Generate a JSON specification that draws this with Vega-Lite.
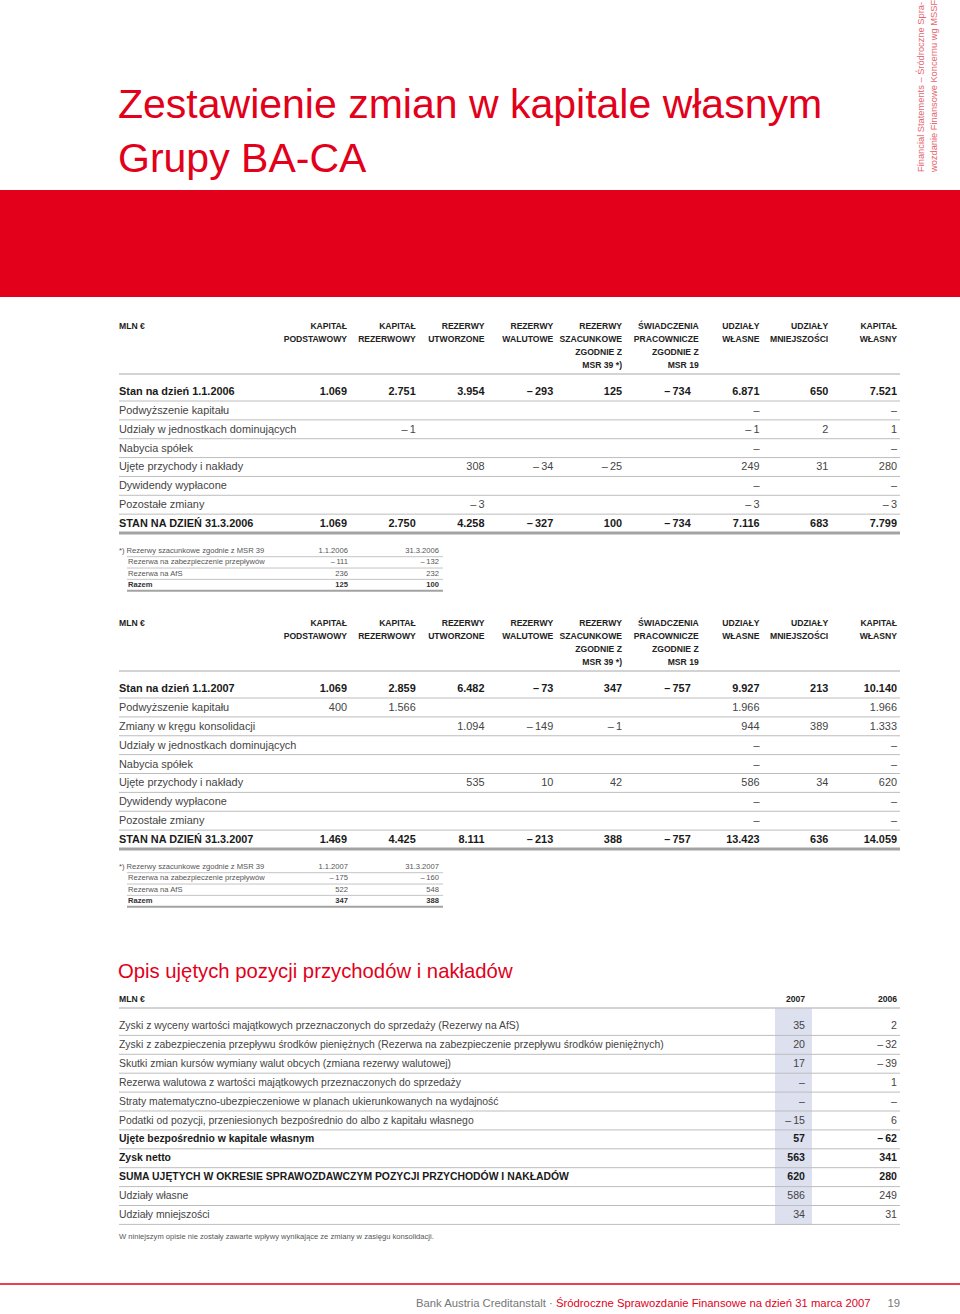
{
"$schema": "https://vega.github.io/schema/vega-lite/v6.json",
"width": 960, "height": 1314, "padding": 0, "autosize": {"type": "none"},
"background": "white",
"config": {"view": {"stroke": null}, "axis": {"disable": true}, "legend": {"disable": true}, "text": {"font": "Liberation Sans, Arial, sans-serif", "baseline": "middle"}},
"resolve": {"scale": {"x": "independent", "y": "independent"}},
"datasets": {
"banner": [{"block": "banner"}],
"title": [{"line": 0, "text": "Zestawienie zmian w kapitale własnym"}, {"line": 1, "text": "Grupy BA-CA"}],
"side": [{"line": 0, "text": "Financial Statements – Śródroczne Spra-"}, {"line": 1, "text": "wozdanie Finansowe Koncernu wg MSSF"}],
"hdr": [
{"c": 0, "l": 0, "t": "MLN €"},
{"c": 1, "l": 0, "t": "KAPITAŁ"}, {"c": 1, "l": 1, "t": "PODSTAWOWY"},
{"c": 2, "l": 0, "t": "KAPITAŁ"}, {"c": 2, "l": 1, "t": "REZERWOWY"},
{"c": 3, "l": 0, "t": "REZERWY"}, {"c": 3, "l": 1, "t": "UTWORZONE"},
{"c": 4, "l": 0, "t": "REZERWY"}, {"c": 4, "l": 1, "t": "WALUTOWE"},
{"c": 5, "l": 0, "t": "REZERWY"}, {"c": 5, "l": 1, "t": "SZACUNKOWE"}, {"c": 5, "l": 2, "t": "ZGODNIE Z"}, {"c": 5, "l": 3, "t": "MSR 39 *)"},
{"c": 6, "l": 0, "t": "ŚWIADCZENIA"}, {"c": 6, "l": 1, "t": "PRACOWNICZE"}, {"c": 6, "l": 2, "t": "ZGODNIE Z"}, {"c": 6, "l": 3, "t": "MSR 19"},
{"c": 7, "l": 0, "t": "UDZIAŁY"}, {"c": 7, "l": 1, "t": "WŁASNE"},
{"c": 8, "l": 0, "t": "UDZIAŁY"}, {"c": 8, "l": 1, "t": "MNIEJSZOŚCI"},
{"c": 9, "l": 0, "t": "KAPITAŁ"}, {"c": 9, "l": 1, "t": "WŁASNY"}
],
"t1": [
{"r": 0, "c": 0, "v": "Stan na dzień 1.1.2006", "b": true}, {"r": 0, "c": 1, "v": "1.069", "b": true}, {"r": 0, "c": 2, "v": "2.751", "b": true}, {"r": 0, "c": 3, "v": "3.954", "b": true}, {"r": 0, "c": 4, "v": "–\u2009293", "b": true}, {"r": 0, "c": 5, "v": "125", "b": true}, {"r": 0, "c": 6, "v": "–\u2009734", "b": true}, {"r": 0, "c": 7, "v": "6.871", "b": true}, {"r": 0, "c": 8, "v": "650", "b": true}, {"r": 0, "c": 9, "v": "7.521", "b": true},
{"r": 1, "c": 0, "v": "Podwyższenie kapitału"}, {"r": 1, "c": 7, "v": "–"}, {"r": 1, "c": 9, "v": "–"},
{"r": 2, "c": 0, "v": "Udziały w jednostkach dominujących"}, {"r": 2, "c": 2, "v": "–\u20091"}, {"r": 2, "c": 7, "v": "–\u20091"}, {"r": 2, "c": 8, "v": "2"}, {"r": 2, "c": 9, "v": "1"},
{"r": 3, "c": 0, "v": "Nabycia spółek"}, {"r": 3, "c": 7, "v": "–"}, {"r": 3, "c": 9, "v": "–"},
{"r": 4, "c": 0, "v": "Ujęte przychody i nakłady"}, {"r": 4, "c": 3, "v": "308"}, {"r": 4, "c": 4, "v": "–\u200934"}, {"r": 4, "c": 5, "v": "–\u200925"}, {"r": 4, "c": 7, "v": "249"}, {"r": 4, "c": 8, "v": "31"}, {"r": 4, "c": 9, "v": "280"},
{"r": 5, "c": 0, "v": "Dywidendy wypłacone"}, {"r": 5, "c": 7, "v": "–"}, {"r": 5, "c": 9, "v": "–"},
{"r": 6, "c": 0, "v": "Pozostałe zmiany"}, {"r": 6, "c": 3, "v": "–\u20093"}, {"r": 6, "c": 7, "v": "–\u20093"}, {"r": 6, "c": 9, "v": "–\u20093"},
{"r": 7, "c": 0, "v": "STAN NA DZIEŃ 31.3.2006", "b": true}, {"r": 7, "c": 1, "v": "1.069", "b": true}, {"r": 7, "c": 2, "v": "2.750", "b": true}, {"r": 7, "c": 3, "v": "4.258", "b": true}, {"r": 7, "c": 4, "v": "–\u2009327", "b": true}, {"r": 7, "c": 5, "v": "100", "b": true}, {"r": 7, "c": 6, "v": "–\u2009734", "b": true}, {"r": 7, "c": 7, "v": "7.116", "b": true}, {"r": 7, "c": 8, "v": "683", "b": true}, {"r": 7, "c": 9, "v": "7.799", "b": true}
],
"t2": [
{"r": 0, "c": 0, "v": "Stan na dzień 1.1.2007", "b": true}, {"r": 0, "c": 1, "v": "1.069", "b": true}, {"r": 0, "c": 2, "v": "2.859", "b": true}, {"r": 0, "c": 3, "v": "6.482", "b": true}, {"r": 0, "c": 4, "v": "–\u200973", "b": true}, {"r": 0, "c": 5, "v": "347", "b": true}, {"r": 0, "c": 6, "v": "–\u2009757", "b": true}, {"r": 0, "c": 7, "v": "9.927", "b": true}, {"r": 0, "c": 8, "v": "213", "b": true}, {"r": 0, "c": 9, "v": "10.140", "b": true},
{"r": 1, "c": 0, "v": "Podwyższenie kapitału"}, {"r": 1, "c": 1, "v": "400"}, {"r": 1, "c": 2, "v": "1.566"}, {"r": 1, "c": 7, "v": "1.966"}, {"r": 1, "c": 9, "v": "1.966"},
{"r": 2, "c": 0, "v": "Zmiany w kręgu konsolidacji"}, {"r": 2, "c": 3, "v": "1.094"}, {"r": 2, "c": 4, "v": "–\u2009149"}, {"r": 2, "c": 5, "v": "–\u20091"}, {"r": 2, "c": 7, "v": "944"}, {"r": 2, "c": 8, "v": "389"}, {"r": 2, "c": 9, "v": "1.333"},
{"r": 3, "c": 0, "v": "Udziały w jednostkach dominujących"}, {"r": 3, "c": 7, "v": "–"}, {"r": 3, "c": 9, "v": "–"},
{"r": 4, "c": 0, "v": "Nabycia spółek"}, {"r": 4, "c": 7, "v": "–"}, {"r": 4, "c": 9, "v": "–"},
{"r": 5, "c": 0, "v": "Ujęte przychody i nakłady"}, {"r": 5, "c": 3, "v": "535"}, {"r": 5, "c": 4, "v": "10"}, {"r": 5, "c": 5, "v": "42"}, {"r": 5, "c": 7, "v": "586"}, {"r": 5, "c": 8, "v": "34"}, {"r": 5, "c": 9, "v": "620"},
{"r": 6, "c": 0, "v": "Dywidendy wypłacone"}, {"r": 6, "c": 7, "v": "–"}, {"r": 6, "c": 9, "v": "–"},
{"r": 7, "c": 0, "v": "Pozostałe zmiany"}, {"r": 7, "c": 7, "v": "–"}, {"r": 7, "c": 9, "v": "–"},
{"r": 8, "c": 0, "v": "STAN NA DZIEŃ 31.3.2007", "b": true}, {"r": 8, "c": 1, "v": "1.469", "b": true}, {"r": 8, "c": 2, "v": "4.425", "b": true}, {"r": 8, "c": 3, "v": "8.111", "b": true}, {"r": 8, "c": 4, "v": "–\u2009213", "b": true}, {"r": 8, "c": 5, "v": "388", "b": true}, {"r": 8, "c": 6, "v": "–\u2009757", "b": true}, {"r": 8, "c": 7, "v": "13.423", "b": true}, {"r": 8, "c": 8, "v": "636", "b": true}, {"r": 8, "c": 9, "v": "14.059", "b": true}
],
"f1": [
{"r": 0, "c": 0, "v": "*) Rezerwy szacunkowe zgodnie z MSR 39"}, {"r": 0, "c": 1, "v": "1.1.2006"}, {"r": 0, "c": 2, "v": "31.3.2006"},
{"r": 1, "c": 0, "v": "Rezerwa na zabezpieczenie przepływów"}, {"r": 1, "c": 1, "v": "–\u2009111"}, {"r": 1, "c": 2, "v": "–\u2009132"},
{"r": 2, "c": 0, "v": "Rezerwa na AfS"}, {"r": 2, "c": 1, "v": "236"}, {"r": 2, "c": 2, "v": "232"},
{"r": 3, "c": 0, "v": "Razem", "b": true}, {"r": 3, "c": 1, "v": "125", "b": true}, {"r": 3, "c": 2, "v": "100", "b": true}
],
"f2": [
{"r": 0, "c": 0, "v": "*) Rezerwy szacunkowe zgodnie z MSR 39"}, {"r": 0, "c": 1, "v": "1.1.2007"}, {"r": 0, "c": 2, "v": "31.3.2007"},
{"r": 1, "c": 0, "v": "Rezerwa na zabezpieczenie przepływów"}, {"r": 1, "c": 1, "v": "–\u2009175"}, {"r": 1, "c": 2, "v": "–\u2009160"},
{"r": 2, "c": 0, "v": "Rezerwa na AfS"}, {"r": 2, "c": 1, "v": "522"}, {"r": 2, "c": 2, "v": "548"},
{"r": 3, "c": 0, "v": "Razem", "b": true}, {"r": 3, "c": 1, "v": "347", "b": true}, {"r": 3, "c": 2, "v": "388", "b": true}
],
"t3title": [{"text": "Opis ujętych pozycji przychodów i nakładów"}],
"t3h": [{"c": 0, "t": "MLN €"}, {"c": 1, "t": "2007"}, {"c": 2, "t": "2006"}],
"t3": [
{"r": 0, "c": 0, "v": "Zyski z wyceny wartości majątkowych przeznaczonych do sprzedaży (Rezerwy na AfS)"}, {"r": 0, "c": 1, "v": "35"}, {"r": 0, "c": 2, "v": "2"},
{"r": 1, "c": 0, "v": "Zyski z zabezpieczenia przepływu środków pieniężnych (Rezerwa na zabezpieczenie przepływu środków pieniężnych)"}, {"r": 1, "c": 1, "v": "20"}, {"r": 1, "c": 2, "v": "–\u200932"},
{"r": 2, "c": 0, "v": "Skutki zmian kursów wymiany walut obcych (zmiana rezerwy walutowej)"}, {"r": 2, "c": 1, "v": "17"}, {"r": 2, "c": 2, "v": "–\u200939"},
{"r": 3, "c": 0, "v": "Rezerwa walutowa z wartości majątkowych przeznaczonych do sprzedaży"}, {"r": 3, "c": 1, "v": "–"}, {"r": 3, "c": 2, "v": "1"},
{"r": 4, "c": 0, "v": "Straty matematyczno-ubezpieczeniowe w planach ukierunkowanych na wydajność"}, {"r": 4, "c": 1, "v": "–"}, {"r": 4, "c": 2, "v": "–"},
{"r": 5, "c": 0, "v": "Podatki od pozycji, przeniesionych bezpośrednio do albo z kapitału własnego"}, {"r": 5, "c": 1, "v": "–\u200915"}, {"r": 5, "c": 2, "v": "6"},
{"r": 6, "c": 0, "v": "Ujęte bezpośrednio w kapitale własnym", "b": true}, {"r": 6, "c": 1, "v": "57", "b": true}, {"r": 6, "c": 2, "v": "–\u200962", "b": true},
{"r": 7, "c": 0, "v": "Zysk netto", "b": true}, {"r": 7, "c": 1, "v": "563", "b": true}, {"r": 7, "c": 2, "v": "341", "b": true},
{"r": 8, "c": 0, "v": "SUMA UJĘTYCH W OKRESIE SPRAWOZDAWCZYM POZYCJI PRZYCHODÓW I NAKŁADÓW", "b": true}, {"r": 8, "c": 1, "v": "620", "b": true}, {"r": 8, "c": 2, "v": "280", "b": true},
{"r": 9, "c": 0, "v": "Udziały własne"}, {"r": 9, "c": 1, "v": "586"}, {"r": 9, "c": 2, "v": "249"},
{"r": 10, "c": 0, "v": "Udziały mniejszości"}, {"r": 10, "c": 1, "v": "34"}, {"r": 10, "c": 2, "v": "31"}
],
"note": [{"text": "W niniejszym opisie nie zostały zawarte wpływy wynikające ze zmiany w zasięgu konsolidacji."}],
"footer": [{"part": "a", "text": "Bank Austria Creditanstalt ·"}, {"part": "b", "text": "Śródroczne Sprawozdanie Finansowe na dzień 31 marca 2007"}, {"part": "c", "text": "19"}]
},
"layer": [
{"data": {"name": "title"}, "mark": {"type": "text", "align": "left", "baseline": "alphabetic", "fontSize": 41, "color": "#e2001a"},
 "encoding": {"x": {"datum": 0, "scale": {"domain": [0, 1], "range": [118, 900], "nice": false, "zero": false}}, "y": {"field": "line", "type": "quantitative", "scale": {"domain": [0, 1], "range": [118, 172], "nice": false, "zero": false}}, "text": {"field": "text"}}},
{"data": {"name": "side"}, "mark": {"type": "text", "align": "left", "baseline": "middle", "angle": 270, "fontSize": 9.3, "color": "#e5646e"},
 "encoding": {"x": {"field": "line", "type": "quantitative", "scale": {"domain": [0, 1], "range": [921, 934], "nice": false, "zero": false}}, "y": {"datum": 0, "scale": {"domain": [0, 1], "range": [172, 0], "nice": false, "zero": false}}, "text": {"field": "text"}}},
{"data": {"name": "banner"}, "mark": {"type": "rect", "color": "#e2001a"},
 "encoding": {"x": {"datum": 0, "scale": {"domain": [0, 1], "range": [0, 960], "nice": false, "zero": false}}, "x2": {"datum": 1}, "y": {"datum": 0, "scale": {"domain": [0, 1], "range": [190, 297], "nice": false, "zero": false}}, "y2": {"datum": 1}}},

{"data": {"name": "hdr"}, "transform": [{"filter": "datum.c > 0 && datum.c != 6"}], "mark": {"type": "text", "align": "right", "fontSize": 8.6, "fontWeight": "bold", "color": "#222"},
 "encoding": {"x": {"field": "c", "type": "quantitative", "scale": {"domain": [1, 9], "range": [347, 897], "nice": false, "zero": false}}, "y": {"field": "l", "type": "quantitative", "scale": {"domain": [0, 3], "range": [326, 365], "nice": false, "zero": false}}, "text": {"field": "t"}}},
{"data": {"name": "hdr"}, "transform": [{"filter": "datum.c == 6"}], "mark": {"type": "text", "align": "right", "dx": 8, "fontSize": 8.6, "fontWeight": "bold", "color": "#222"},
 "encoding": {"x": {"field": "c", "type": "quantitative", "scale": {"domain": [1, 9], "range": [347, 897], "nice": false, "zero": false}}, "y": {"field": "l", "type": "quantitative", "scale": {"domain": [0, 3], "range": [326, 365], "nice": false, "zero": false}}, "text": {"field": "t"}}},
{"data": {"name": "hdr"}, "transform": [{"filter": "datum.c == 0"}], "mark": {"type": "text", "align": "left", "fontSize": 8.6, "fontWeight": "bold", "color": "#222"},
 "encoding": {"x": {"field": "c", "type": "quantitative", "scale": {"domain": [0, 1], "range": [119, 900], "nice": false, "zero": false}}, "y": {"field": "l", "type": "quantitative", "scale": {"domain": [0, 3], "range": [326, 365], "nice": false, "zero": false}}, "text": {"field": "t"}}},
{"data": {"name": "t1"}, "transform": [{"filter": "datum.c == 0"}], "mark": {"type": "rule", "yOffset": 9},
 "encoding": {"x": {"datum": 0, "scale": {"domain": [0, 1], "range": [119, 900], "nice": false, "zero": false}}, "x2": {"datum": 1}, "y": {"field": "r", "type": "quantitative", "scale": {"domain": [0, 7], "range": [392, 524], "nice": false, "zero": false}},
  "strokeWidth": {"condition": {"test": "datum.r == 7", "value": 3}, "value": 1}, "color": {"condition": {"test": "datum.r == 7", "value": "#a3a3a3"}, "value": "#bdbdbd"}}},
{"data": {"name": "t1"}, "transform": [{"filter": "datum.c == 0 && datum.r == 0"}], "mark": {"type": "rule", "yOffset": -18, "color": "#a8a8a8", "strokeWidth": 1},
 "encoding": {"x": {"datum": 0, "scale": {"domain": [0, 1], "range": [119, 900], "nice": false, "zero": false}}, "x2": {"datum": 1}, "y": {"field": "r", "type": "quantitative", "scale": {"domain": [0, 7], "range": [392, 524], "nice": false, "zero": false}}}},
{"data": {"name": "t1"}, "transform": [{"filter": "datum.c == 0 && !datum.b"}], "mark": {"type": "text", "align": "left", "fontSize": 10.9, "color": "#444"},
 "encoding": {"x": {"field": "c", "type": "quantitative", "scale": {"domain": [0, 1], "range": [119, 900], "nice": false, "zero": false}}, "y": {"field": "r", "type": "quantitative", "scale": {"domain": [0, 7], "range": [392, 524], "nice": false, "zero": false}}, "text": {"field": "v"}}},
{"data": {"name": "t1"}, "transform": [{"filter": "datum.c == 0 && datum.b"}], "mark": {"type": "text", "align": "left", "fontSize": 10.9, "fontWeight": "bold", "color": "#1a1a1a"},
 "encoding": {"x": {"field": "c", "type": "quantitative", "scale": {"domain": [0, 1], "range": [119, 900], "nice": false, "zero": false}}, "y": {"field": "r", "type": "quantitative", "scale": {"domain": [0, 7], "range": [392, 524], "nice": false, "zero": false}}, "text": {"field": "v"}}},
{"data": {"name": "t1"}, "transform": [{"filter": "datum.c > 0 && !datum.b"}], "mark": {"type": "text", "align": "right", "fontSize": 10.9, "color": "#444"},
 "encoding": {"x": {"field": "c", "type": "quantitative", "scale": {"domain": [1, 9], "range": [347, 897], "nice": false, "zero": false}}, "y": {"field": "r", "type": "quantitative", "scale": {"domain": [0, 7], "range": [392, 524], "nice": false, "zero": false}}, "text": {"field": "v"}}},
{"data": {"name": "t1"}, "transform": [{"filter": "datum.c > 0 && datum.b"}], "mark": {"type": "text", "align": "right", "fontSize": 10.9, "fontWeight": "bold", "color": "#1a1a1a"},
 "encoding": {"x": {"field": "c", "type": "quantitative", "scale": {"domain": [1, 9], "range": [347, 897], "nice": false, "zero": false}}, "y": {"field": "r", "type": "quantitative", "scale": {"domain": [0, 7], "range": [392, 524], "nice": false, "zero": false}}, "text": {"field": "v"}}},

{"data": {"name": "f1"}, "transform": [{"filter": "datum.c == 0"}], "mark": {"type": "rule", "yOffset": 5.7},
 "encoding": {"x": {"datum": 0, "scale": {"domain": [0, 1], "range": [127, 443], "nice": false, "zero": false}}, "x2": {"datum": 1}, "y": {"field": "r", "type": "quantitative", "scale": {"domain": [0, 3], "range": [551, 585], "nice": false, "zero": false}},
  "strokeWidth": {"condition": {"test": "datum.r == 3", "value": 2}, "value": 1}, "color": {"condition": {"test": "datum.r == 3", "value": "#a3a3a3"}, "value": "#c4c4c4"}}},
{"data": {"name": "f1"}, "transform": [{"filter": "datum.c == 0 && datum.r == 0"}], "mark": {"type": "text", "align": "left", "fontSize": 7.6, "color": "#555"},
 "encoding": {"x": {"field": "c", "type": "quantitative", "scale": {"domain": [0, 1], "range": [119, 443], "nice": false, "zero": false}}, "y": {"field": "r", "type": "quantitative", "scale": {"domain": [0, 3], "range": [551, 585], "nice": false, "zero": false}}, "text": {"field": "v"}}},
{"data": {"name": "f1"}, "transform": [{"filter": "datum.c == 0 && datum.r > 0 && !datum.b"}], "mark": {"type": "text", "align": "left", "fontSize": 7.6, "color": "#555"},
 "encoding": {"x": {"field": "c", "type": "quantitative", "scale": {"domain": [0, 1], "range": [128, 443], "nice": false, "zero": false}}, "y": {"field": "r", "type": "quantitative", "scale": {"domain": [0, 3], "range": [551, 585], "nice": false, "zero": false}}, "text": {"field": "v"}}},
{"data": {"name": "f1"}, "transform": [{"filter": "datum.c == 0 && datum.b"}], "mark": {"type": "text", "align": "left", "fontSize": 7.6, "fontWeight": "bold", "color": "#333"},
 "encoding": {"x": {"field": "c", "type": "quantitative", "scale": {"domain": [0, 1], "range": [128, 443], "nice": false, "zero": false}}, "y": {"field": "r", "type": "quantitative", "scale": {"domain": [0, 3], "range": [551, 585], "nice": false, "zero": false}}, "text": {"field": "v"}}},
{"data": {"name": "f1"}, "transform": [{"filter": "datum.c > 0 && !datum.b"}], "mark": {"type": "text", "align": "right", "fontSize": 7.6, "color": "#555"},
 "encoding": {"x": {"field": "c", "type": "quantitative", "scale": {"domain": [1, 2], "range": [348, 439], "nice": false, "zero": false}}, "y": {"field": "r", "type": "quantitative", "scale": {"domain": [0, 3], "range": [551, 585], "nice": false, "zero": false}}, "text": {"field": "v"}}},
{"data": {"name": "f1"}, "transform": [{"filter": "datum.c > 0 && datum.b"}], "mark": {"type": "text", "align": "right", "fontSize": 7.6, "fontWeight": "bold", "color": "#333"},
 "encoding": {"x": {"field": "c", "type": "quantitative", "scale": {"domain": [1, 2], "range": [348, 439], "nice": false, "zero": false}}, "y": {"field": "r", "type": "quantitative", "scale": {"domain": [0, 3], "range": [551, 585], "nice": false, "zero": false}}, "text": {"field": "v"}}},

{"data": {"name": "hdr"}, "transform": [{"filter": "datum.c > 0 && datum.c != 6"}], "mark": {"type": "text", "align": "right", "fontSize": 8.6, "fontWeight": "bold", "color": "#222"},
 "encoding": {"x": {"field": "c", "type": "quantitative", "scale": {"domain": [1, 9], "range": [347, 897], "nice": false, "zero": false}}, "y": {"field": "l", "type": "quantitative", "scale": {"domain": [0, 3], "range": [623, 662], "nice": false, "zero": false}}, "text": {"field": "t"}}},
{"data": {"name": "hdr"}, "transform": [{"filter": "datum.c == 6"}], "mark": {"type": "text", "align": "right", "dx": 8, "fontSize": 8.6, "fontWeight": "bold", "color": "#222"},
 "encoding": {"x": {"field": "c", "type": "quantitative", "scale": {"domain": [1, 9], "range": [347, 897], "nice": false, "zero": false}}, "y": {"field": "l", "type": "quantitative", "scale": {"domain": [0, 3], "range": [623, 662], "nice": false, "zero": false}}, "text": {"field": "t"}}},
{"data": {"name": "hdr"}, "transform": [{"filter": "datum.c == 0"}], "mark": {"type": "text", "align": "left", "fontSize": 8.6, "fontWeight": "bold", "color": "#222"},
 "encoding": {"x": {"field": "c", "type": "quantitative", "scale": {"domain": [0, 1], "range": [119, 900], "nice": false, "zero": false}}, "y": {"field": "l", "type": "quantitative", "scale": {"domain": [0, 3], "range": [623, 662], "nice": false, "zero": false}}, "text": {"field": "t"}}},
{"data": {"name": "t2"}, "transform": [{"filter": "datum.c == 0"}], "mark": {"type": "rule", "yOffset": 9},
 "encoding": {"x": {"datum": 0, "scale": {"domain": [0, 1], "range": [119, 900], "nice": false, "zero": false}}, "x2": {"datum": 1}, "y": {"field": "r", "type": "quantitative", "scale": {"domain": [0, 8], "range": [689, 840], "nice": false, "zero": false}},
  "strokeWidth": {"condition": {"test": "datum.r == 8", "value": 3}, "value": 1}, "color": {"condition": {"test": "datum.r == 8", "value": "#a3a3a3"}, "value": "#bdbdbd"}}},
{"data": {"name": "t2"}, "transform": [{"filter": "datum.c == 0 && datum.r == 0"}], "mark": {"type": "rule", "yOffset": -18, "color": "#a8a8a8", "strokeWidth": 1},
 "encoding": {"x": {"datum": 0, "scale": {"domain": [0, 1], "range": [119, 900], "nice": false, "zero": false}}, "x2": {"datum": 1}, "y": {"field": "r", "type": "quantitative", "scale": {"domain": [0, 8], "range": [689, 840], "nice": false, "zero": false}}}},
{"data": {"name": "t2"}, "transform": [{"filter": "datum.c == 0 && !datum.b"}], "mark": {"type": "text", "align": "left", "fontSize": 10.9, "color": "#444"},
 "encoding": {"x": {"field": "c", "type": "quantitative", "scale": {"domain": [0, 1], "range": [119, 900], "nice": false, "zero": false}}, "y": {"field": "r", "type": "quantitative", "scale": {"domain": [0, 8], "range": [689, 840], "nice": false, "zero": false}}, "text": {"field": "v"}}},
{"data": {"name": "t2"}, "transform": [{"filter": "datum.c == 0 && datum.b"}], "mark": {"type": "text", "align": "left", "fontSize": 10.9, "fontWeight": "bold", "color": "#1a1a1a"},
 "encoding": {"x": {"field": "c", "type": "quantitative", "scale": {"domain": [0, 1], "range": [119, 900], "nice": false, "zero": false}}, "y": {"field": "r", "type": "quantitative", "scale": {"domain": [0, 8], "range": [689, 840], "nice": false, "zero": false}}, "text": {"field": "v"}}},
{"data": {"name": "t2"}, "transform": [{"filter": "datum.c > 0 && !datum.b"}], "mark": {"type": "text", "align": "right", "fontSize": 10.9, "color": "#444"},
 "encoding": {"x": {"field": "c", "type": "quantitative", "scale": {"domain": [1, 9], "range": [347, 897], "nice": false, "zero": false}}, "y": {"field": "r", "type": "quantitative", "scale": {"domain": [0, 8], "range": [689, 840], "nice": false, "zero": false}}, "text": {"field": "v"}}},
{"data": {"name": "t2"}, "transform": [{"filter": "datum.c > 0 && datum.b"}], "mark": {"type": "text", "align": "right", "fontSize": 10.9, "fontWeight": "bold", "color": "#1a1a1a"},
 "encoding": {"x": {"field": "c", "type": "quantitative", "scale": {"domain": [1, 9], "range": [347, 897], "nice": false, "zero": false}}, "y": {"field": "r", "type": "quantitative", "scale": {"domain": [0, 8], "range": [689, 840], "nice": false, "zero": false}}, "text": {"field": "v"}}},

{"data": {"name": "f2"}, "transform": [{"filter": "datum.c == 0"}], "mark": {"type": "rule", "yOffset": 5.7},
 "encoding": {"x": {"datum": 0, "scale": {"domain": [0, 1], "range": [127, 443], "nice": false, "zero": false}}, "x2": {"datum": 1}, "y": {"field": "r", "type": "quantitative", "scale": {"domain": [0, 3], "range": [867, 901], "nice": false, "zero": false}},
  "strokeWidth": {"condition": {"test": "datum.r == 3", "value": 2}, "value": 1}, "color": {"condition": {"test": "datum.r == 3", "value": "#a3a3a3"}, "value": "#c4c4c4"}}},
{"data": {"name": "f2"}, "transform": [{"filter": "datum.c == 0 && datum.r == 0"}], "mark": {"type": "text", "align": "left", "fontSize": 7.6, "color": "#555"},
 "encoding": {"x": {"field": "c", "type": "quantitative", "scale": {"domain": [0, 1], "range": [119, 443], "nice": false, "zero": false}}, "y": {"field": "r", "type": "quantitative", "scale": {"domain": [0, 3], "range": [867, 901], "nice": false, "zero": false}}, "text": {"field": "v"}}},
{"data": {"name": "f2"}, "transform": [{"filter": "datum.c == 0 && datum.r > 0 && !datum.b"}], "mark": {"type": "text", "align": "left", "fontSize": 7.6, "color": "#555"},
 "encoding": {"x": {"field": "c", "type": "quantitative", "scale": {"domain": [0, 1], "range": [128, 443], "nice": false, "zero": false}}, "y": {"field": "r", "type": "quantitative", "scale": {"domain": [0, 3], "range": [867, 901], "nice": false, "zero": false}}, "text": {"field": "v"}}},
{"data": {"name": "f2"}, "transform": [{"filter": "datum.c == 0 && datum.b"}], "mark": {"type": "text", "align": "left", "fontSize": 7.6, "fontWeight": "bold", "color": "#333"},
 "encoding": {"x": {"field": "c", "type": "quantitative", "scale": {"domain": [0, 1], "range": [128, 443], "nice": false, "zero": false}}, "y": {"field": "r", "type": "quantitative", "scale": {"domain": [0, 3], "range": [867, 901], "nice": false, "zero": false}}, "text": {"field": "v"}}},
{"data": {"name": "f2"}, "transform": [{"filter": "datum.c > 0 && !datum.b"}], "mark": {"type": "text", "align": "right", "fontSize": 7.6, "color": "#555"},
 "encoding": {"x": {"field": "c", "type": "quantitative", "scale": {"domain": [1, 2], "range": [348, 439], "nice": false, "zero": false}}, "y": {"field": "r", "type": "quantitative", "scale": {"domain": [0, 3], "range": [867, 901], "nice": false, "zero": false}}, "text": {"field": "v"}}},
{"data": {"name": "f2"}, "transform": [{"filter": "datum.c > 0 && datum.b"}], "mark": {"type": "text", "align": "right", "fontSize": 7.6, "fontWeight": "bold", "color": "#333"},
 "encoding": {"x": {"field": "c", "type": "quantitative", "scale": {"domain": [1, 2], "range": [348, 439], "nice": false, "zero": false}}, "y": {"field": "r", "type": "quantitative", "scale": {"domain": [0, 3], "range": [867, 901], "nice": false, "zero": false}}, "text": {"field": "v"}}},

{"data": {"name": "t3title"}, "mark": {"type": "text", "align": "left", "baseline": "alphabetic", "fontSize": 20.3, "color": "#e2001a"},
 "encoding": {"x": {"datum": 0, "scale": {"domain": [0, 1], "range": [118, 900], "nice": false, "zero": false}}, "y": {"datum": 0, "scale": {"domain": [0, 1], "range": [978, 1000], "nice": false, "zero": false}}, "text": {"field": "text"}}},
{"data": {"name": "banner"}, "mark": {"type": "rect", "color": "#dde0ef"},
 "encoding": {"x": {"datum": 0, "scale": {"domain": [0, 1], "range": [775, 812], "nice": false, "zero": false}}, "x2": {"datum": 1}, "y": {"datum": 0, "scale": {"domain": [0, 1], "range": [1008.5, 1225], "nice": false, "zero": false}}, "y2": {"datum": 1}}},
{"data": {"name": "t3h"}, "transform": [{"filter": "datum.c == 0"}], "mark": {"type": "text", "align": "left", "fontSize": 8.6, "fontWeight": "bold", "color": "#222"},
 "encoding": {"x": {"field": "c", "type": "quantitative", "scale": {"domain": [0, 1], "range": [119, 900], "nice": false, "zero": false}}, "y": {"datum": 0, "scale": {"domain": [0, 1], "range": [999, 1000], "nice": false, "zero": false}}, "text": {"field": "t"}}},
{"data": {"name": "t3h"}, "transform": [{"filter": "datum.c > 0"}], "mark": {"type": "text", "align": "right", "fontSize": 8.6, "fontWeight": "bold", "color": "#222"},
 "encoding": {"x": {"field": "c", "type": "quantitative", "scale": {"domain": [1, 2], "range": [805, 897], "nice": false, "zero": false}}, "y": {"datum": 0, "scale": {"domain": [0, 1], "range": [999, 1000], "nice": false, "zero": false}}, "text": {"field": "t"}}},
{"data": {"name": "t3"}, "transform": [{"filter": "datum.c == 0"}], "mark": {"type": "rule", "yOffset": 9.4, "color": "#bdbdbd", "strokeWidth": 1},
 "encoding": {"x": {"datum": 0, "scale": {"domain": [0, 1], "range": [119, 900], "nice": false, "zero": false}}, "x2": {"datum": 1}, "y": {"field": "r", "type": "quantitative", "scale": {"domain": [0, 10], "range": [1026, 1215], "nice": false, "zero": false}}}},
{"data": {"name": "t3"}, "transform": [{"filter": "datum.c == 0 && datum.r == 0"}], "mark": {"type": "rule", "yOffset": -18, "color": "#a8a8a8", "strokeWidth": 1},
 "encoding": {"x": {"datum": 0, "scale": {"domain": [0, 1], "range": [119, 900], "nice": false, "zero": false}}, "x2": {"datum": 1}, "y": {"field": "r", "type": "quantitative", "scale": {"domain": [0, 10], "range": [1026, 1215], "nice": false, "zero": false}}}},
{"data": {"name": "t3"}, "transform": [{"filter": "datum.c == 0 && !datum.b"}], "mark": {"type": "text", "align": "left", "fontSize": 10.4, "color": "#444"},
 "encoding": {"x": {"field": "c", "type": "quantitative", "scale": {"domain": [0, 1], "range": [119, 900], "nice": false, "zero": false}}, "y": {"field": "r", "type": "quantitative", "scale": {"domain": [0, 10], "range": [1026, 1215], "nice": false, "zero": false}}, "text": {"field": "v"}}},
{"data": {"name": "t3"}, "transform": [{"filter": "datum.c == 0 && datum.b"}], "mark": {"type": "text", "align": "left", "fontSize": 10.4, "fontWeight": "bold", "color": "#1a1a1a"},
 "encoding": {"x": {"field": "c", "type": "quantitative", "scale": {"domain": [0, 1], "range": [119, 900], "nice": false, "zero": false}}, "y": {"field": "r", "type": "quantitative", "scale": {"domain": [0, 10], "range": [1026, 1215], "nice": false, "zero": false}}, "text": {"field": "v"}}},
{"data": {"name": "t3"}, "transform": [{"filter": "datum.c > 0 && !datum.b"}], "mark": {"type": "text", "align": "right", "fontSize": 10.6, "color": "#444"},
 "encoding": {"x": {"field": "c", "type": "quantitative", "scale": {"domain": [1, 2], "range": [805, 897], "nice": false, "zero": false}}, "y": {"field": "r", "type": "quantitative", "scale": {"domain": [0, 10], "range": [1026, 1215], "nice": false, "zero": false}}, "text": {"field": "v"}}},
{"data": {"name": "t3"}, "transform": [{"filter": "datum.c > 0 && datum.b"}], "mark": {"type": "text", "align": "right", "fontSize": 10.6, "fontWeight": "bold", "color": "#1a1a1a"},
 "encoding": {"x": {"field": "c", "type": "quantitative", "scale": {"domain": [1, 2], "range": [805, 897], "nice": false, "zero": false}}, "y": {"field": "r", "type": "quantitative", "scale": {"domain": [0, 10], "range": [1026, 1215], "nice": false, "zero": false}}, "text": {"field": "v"}}},
{"data": {"name": "note"}, "mark": {"type": "text", "align": "left", "fontSize": 7.6, "color": "#555"},
 "encoding": {"x": {"datum": 0, "scale": {"domain": [0, 1], "range": [119, 900], "nice": false, "zero": false}}, "y": {"datum": 0, "scale": {"domain": [0, 1], "range": [1237, 1238], "nice": false, "zero": false}}, "text": {"field": "text"}}},

{"data": {"name": "footer"}, "transform": [{"filter": "datum.part == 'a'"}], "mark": {"type": "rule", "color": "#e2001a", "strokeWidth": 1.5},
 "encoding": {"x": {"datum": 0, "scale": {"domain": [0, 1], "range": [0, 960], "nice": false, "zero": false}}, "x2": {"datum": 1}, "y": {"datum": 0, "scale": {"domain": [0, 1], "range": [1284, 1285], "nice": false, "zero": false}}}},
{"data": {"name": "footer"}, "transform": [{"filter": "datum.part == 'a'"}], "mark": {"type": "text", "align": "left", "fontSize": 11.3, "color": "#777"},
 "encoding": {"x": {"datum": 0, "scale": {"domain": [0, 1], "range": [416, 900], "nice": false, "zero": false}}, "y": {"datum": 0, "scale": {"domain": [0, 1], "range": [1304, 1305], "nice": false, "zero": false}}, "text": {"field": "text"}}},
{"data": {"name": "footer"}, "transform": [{"filter": "datum.part == 'b'"}], "mark": {"type": "text", "align": "left", "fontSize": 11.3, "color": "#e2001a"},
 "encoding": {"x": {"datum": 0, "scale": {"domain": [0, 1], "range": [556, 900], "nice": false, "zero": false}}, "y": {"datum": 0, "scale": {"domain": [0, 1], "range": [1304, 1305], "nice": false, "zero": false}}, "text": {"field": "text"}}},
{"data": {"name": "footer"}, "transform": [{"filter": "datum.part == 'c'"}], "mark": {"type": "text", "align": "right", "fontSize": 11.3, "color": "#777"},
 "encoding": {"x": {"datum": 0, "scale": {"domain": [0, 1], "range": [900, 960], "nice": false, "zero": false}}, "y": {"datum": 0, "scale": {"domain": [0, 1], "range": [1304, 1305], "nice": false, "zero": false}}, "text": {"field": "text"}}}
]
}
